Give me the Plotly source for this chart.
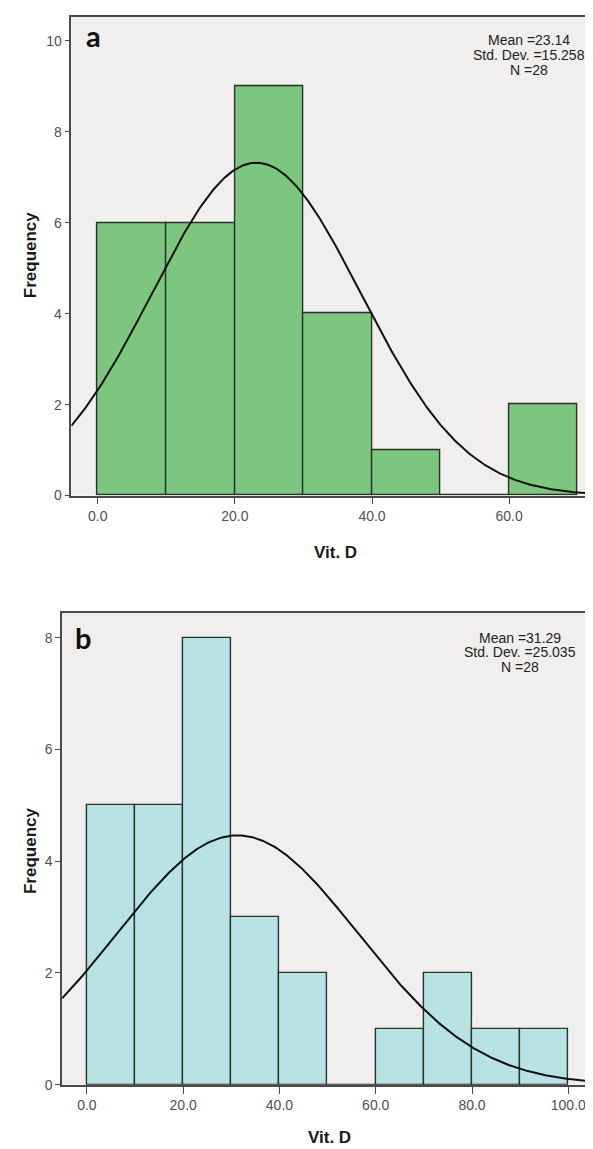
import numpy as np
import plotly.graph_objects as go

W, H = 593, 1149

# ---- data ----
bin_left_a = [0, 10, 20, 30, 40, 50, 60]
freq_a = [6, 6, 9, 4, 1, 0, 2]
mean_a, sd_a, n_a = 23.14, 15.258, 28

bin_left_b = [0, 10, 20, 30, 40, 50, 60, 70, 80, 90]
freq_b = [5, 5, 8, 3, 2, 0, 1, 2, 1, 1]
mean_b, sd_b, n_b = 31.29, 25.035, 28

bin_width = 10
xticks_a = [0, 20, 40, 60]
xticks_b = [0, 20, 40, 60, 80, 100]
yticks_a = [0, 2, 4, 6, 8, 10]
yticks_b = [0, 2, 4, 6, 8]

GREEN = "#7CC67F"
CYAN = "#B8E2E4"
BG = "#F1EFED"
EDGE = "#26322A"
AX = "#4A4A4A"


def px(x):
    return x / W


def py(y):
    return 1 - y / H


def normal_curve(mean, sd, n, lo, hi):
    xs = np.linspace(lo, hi, 400)
    ys = n * bin_width * np.exp(-0.5 * ((xs - mean) / sd) ** 2) / (sd * np.sqrt(2 * np.pi))
    return xs, ys


fig = go.Figure()

xr_a = [-3.85, 73.1]
xr_b = [-5.15, 105.2]

fig.add_trace(go.Bar(
    x=[b + bin_width / 2 for b in bin_left_a], y=freq_a, width=bin_width,
    marker=dict(color=GREEN, line=dict(color=EDGE, width=1.4)),
    xaxis="x", yaxis="y", showlegend=False, hoverinfo="skip"))
cx, cy = normal_curve(mean_a, sd_a, n_a, xr_a[0], xr_a[1])
fig.add_trace(go.Scatter(x=cx, y=cy, mode="lines", line=dict(color="#111111", width=2),
                         xaxis="x", yaxis="y", showlegend=False, hoverinfo="skip"))

fig.add_trace(go.Bar(
    x=[b + bin_width / 2 for b in bin_left_b], y=freq_b, width=bin_width,
    marker=dict(color=CYAN, line=dict(color=EDGE, width=1.4)),
    xaxis="x2", yaxis="y2", showlegend=False, hoverinfo="skip"))
cx, cy = normal_curve(mean_b, sd_b, n_b, xr_b[0], xr_b[1])
fig.add_trace(go.Scatter(x=cx, y=cy, mode="lines", line=dict(color="#111111", width=2),
                         xaxis="x2", yaxis="y2", showlegend=False, hoverinfo="skip"))

tickfont = dict(family="Liberation Sans, Arial, sans-serif", size=14, color="#505050")

axis_common = dict(showgrid=False, zeroline=False, showline=True, linecolor=AX, linewidth=1.5,
                   mirror=True, ticks="outside", tickcolor=AX, tickwidth=1.3, tickfont=tickfont)

fig.update_layout(
    width=W, height=H,
    margin=dict(l=0, r=0, t=0, b=0),
    paper_bgcolor="white", plot_bgcolor=BG,
    bargap=0,
    xaxis=dict(domain=[px(63.5), 1.0], range=xr_a, tickvals=xticks_a,
               ticktext=[f"{v:.1f}" for v in xticks_a], ticklen=7, anchor="y", **axis_common),
    yaxis=dict(domain=[py(491), py(9.3)], range=[0, 10.52], tickvals=yticks_a, ticklen=5,
               anchor="x", **axis_common),
    xaxis2=dict(domain=[px(54.3), px(587.3)], range=xr_b, tickvals=xticks_b,
                ticktext=[f"{v:.1f}" for v in xticks_b], ticklen=7, anchor="y2", **axis_common),
    yaxis2=dict(domain=[py(1084.3), py(609.3)], range=[0, 8.44], tickvals=yticks_b, ticklen=5,
                anchor="x2", **axis_common),
)

ann = []
statfont = dict(family="Liberation Sans, Arial, sans-serif", size=14, color="#222222")
for txt, y in [(f"Mean ={mean_a}", 32.5), (f"Std. Dev. ={sd_a}", 47.5), (f"N ={n_a}", 62.5)]:
    ann.append(dict(text=txt, x=px(523), y=py(y), xref="paper", yref="paper",
                    xanchor="center", yanchor="middle", showarrow=False, font=statfont))
for txt, y in [(f"Mean ={mean_b}", 634), (f"Std. Dev. ={sd_b:.3f}", 649), (f"N ={n_b}", 663.5)]:
    ann.append(dict(text=txt, x=px(514), y=py(y), xref="paper", yref="paper",
                    xanchor="center", yanchor="middle", showarrow=False, font=statfont))

labfont = dict(family="Lato, Open Sans, sans-serif", size=29, color="#111111")
ann.append(dict(text="<b>a</b>", x=px(76), y=py(28), xref="paper", yref="paper",
                xanchor="left", yanchor="middle", showarrow=False, font=labfont))
ann.append(dict(text="<b>b</b>", x=px(65), y=py(634), xref="paper", yref="paper",
                xanchor="left", yanchor="middle", showarrow=False, font=labfont))

titlefont = dict(family="Liberation Sans, Arial, sans-serif", size=17, color="#1a1a1a")
ann.append(dict(text="<b>Frequency</b>", x=px(22), y=py(248), xref="paper", yref="paper",
                xanchor="center", yanchor="middle", textangle=-90, showarrow=False, font=titlefont))
ann.append(dict(text="<b>Frequency</b>", x=px(22), y=py(848), xref="paper", yref="paper",
                xanchor="center", yanchor="middle", textangle=-90, showarrow=False, font=titlefont))
ann.append(dict(text="<b>Vit. D</b>", x=px(329), y=py(548), xref="paper", yref="paper",
                xanchor="center", yanchor="middle", showarrow=False, font=titlefont))
ann.append(dict(text="<b>Vit. D</b>", x=px(323), y=py(1137), xref="paper", yref="paper",
                xanchor="center", yanchor="middle", showarrow=False, font=titlefont))

fig.update_layout(annotations=ann)
fig.write_html("out.html")
